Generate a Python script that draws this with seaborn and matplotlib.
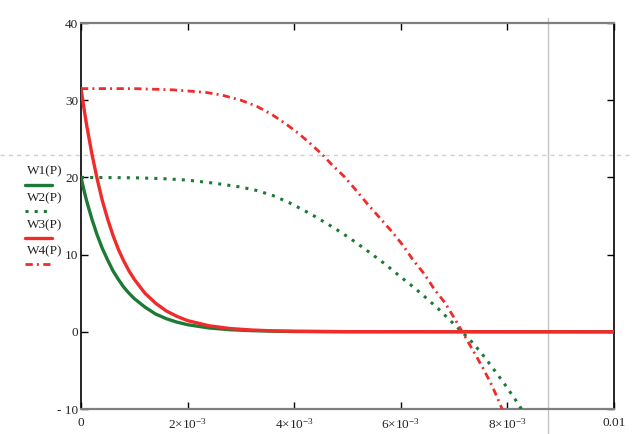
import numpy as np
import pandas as pd
import matplotlib
matplotlib.use("Agg")
import matplotlib.pyplot as plt
from matplotlib.lines import Line2D
import seaborn as sns

# ---------------- data ----------------
P_decay = [0, 0.05e-3, 0.1e-3, 0.2e-3, 0.3e-3, 0.4e-3, 0.5e-3, 0.6e-3, 0.7e-3, 0.8e-3,
           0.9e-3, 1.0e-3, 1.2e-3, 1.4e-3, 1.6e-3, 1.8e-3, 2.0e-3, 2.4e-3, 2.8e-3,
           3.2e-3, 3.6e-3, 4.0e-3, 5.0e-3, 10.0e-3]
W1 = [20, 18.5, 17.1, 14.7, 12.6, 10.8, 9.3, 7.9, 6.8, 5.8,
      5.0, 4.3, 3.2, 2.3, 1.7, 1.25, 0.92, 0.5, 0.27,
      0.15, 0.08, 0.04, 0.01, 0]
W3 = [31.5, 29.2, 27.0, 23.2, 19.9, 17.0, 14.6, 12.5, 10.7, 9.2,
      7.9, 6.8, 5.0, 3.7, 2.7, 2.0, 1.45, 0.78, 0.42,
      0.23, 0.12, 0.07, 0.02, 0]

P_W2 = [0, 1.0e-3, 1.5e-3, 2.0e-3, 2.5e-3, 3.0e-3, 3.3e-3, 3.6e-3, 3.9e-3, 4.15e-3,
        4.4e-3, 4.75e-3, 5.05e-3, 5.4e-3, 5.7e-3, 6.0e-3, 6.2e-3, 6.4e-3, 6.7e-3,
        6.9e-3, 7.1e-3, 7.3e-3, 7.5e-3, 7.7e-3, 7.95e-3, 8.15e-3, 8.3e-3]
W2 = [20, 19.95, 19.85, 19.65, 19.25, 18.75, 18.3, 17.65, 16.75, 15.85,
      14.9, 13.45, 12.1, 10.35, 8.8, 7.1, 6.0, 4.85, 3.0,
      1.65, 0.3, -1.05, -2.65, -4.45, -6.8, -8.8, -10.4]

P_W4 = [0, 1.0e-3, 1.7e-3, 2.0e-3, 2.35e-3, 2.65e-3, 3.0e-3, 3.3e-3, 3.58e-3, 3.83e-3,
        4.08e-3, 4.3e-3, 4.52e-3, 4.7e-3, 4.94e-3, 5.14e-3, 5.37e-3, 5.6e-3, 5.83e-3,
        6.04e-3, 6.23e-3, 6.44e-3, 6.62e-3, 6.83e-3, 7.02e-3, 7.19e-3, 7.37e-3,
        7.55e-3, 7.72e-3, 7.87e-3, 7.95e-3]
W4 = [31.5, 31.5, 31.35, 31.2, 31.0, 30.65, 30.0, 29.2, 28.15, 27.0,
      25.7, 24.4, 23.0, 21.7, 20.1, 18.5, 16.6, 14.8, 13.0,
      11.2, 9.3, 7.5, 5.6, 3.75, 1.6, -0.45, -2.6,
      -4.8, -7.1, -9.5, -10.8]

series_labels = ["W1(P)", "W2(P)", "W3(P)", "W4(P)"]
x_ticks = [0, 2e-3, 4e-3, 6e-3, 8e-3, 0.01]
x_ticklabels = ["0", r"$2{\times}10^{-3}$", r"$4{\times}10^{-3}$",
                r"$6{\times}10^{-3}$", r"$8{\times}10^{-3}$", "0.01"]
y_ticks = [-10, 0, 10, 20, 30, 40]
y_ticklabels = ["- 10", "0", "10", "20", "30", "40"]
cursor_x = 8.76e-3
cursor_y = 22.9

GREEN = "#1d7a36"
RED = "#ef2b2b"
DOTS = [1.0, 2.0]
DASHDOT = [2.6, 1.5, 0.7, 1.6]

# ---------------- style ----------------
sns.set_style("ticks")
plt.rcParams["font.family"] = ["Liberation Serif", "DejaVu Serif"]
plt.rcParams["mathtext.fontset"] = "custom"
plt.rcParams["mathtext.rm"] = "Liberation Serif"
plt.rcParams["mathtext.it"] = "Liberation Serif:italic"
plt.rcParams["mathtext.bf"] = "Liberation Serif:bold"

fig = plt.figure(figsize=(6.32, 4.34), dpi=100)
ax = fig.add_axes([81 / 632, 25 / 434, 533 / 632, 386 / 434])

d1 = pd.DataFrame({"P": P_decay, "W": W1})
d3 = pd.DataFrame({"P": P_decay, "W": W3})
d2 = pd.DataFrame({"P": P_W2, "W": W2})
d4 = pd.DataFrame({"P": P_W4, "W": W4})

sns.lineplot(data=d1, x="P", y="W", ax=ax, color=GREEN, lw=2.4, zorder=3)
l1 = ax.lines[-1]
sns.lineplot(data=d2, x="P", y="W", ax=ax, color=GREEN, lw=2.2, zorder=3)
l2 = ax.lines[-1]
l2.set_dashes(DOTS)
l2.set_dash_capstyle("butt")
sns.lineplot(data=d3, x="P", y="W", ax=ax, color=RED, lw=2.4, zorder=4)
l3 = ax.lines[-1]
sns.lineplot(data=d4, x="P", y="W", ax=ax, color=RED, lw=2.0, zorder=4)
l4 = ax.lines[-1]
l4.set_dashes(DASHDOT)
l4.set_dash_capstyle("butt")

ax.set_xlim(0, 0.01)
ax.set_ylim(-10, 40)
ax.set_xlabel("")
ax.set_ylabel("")
ax.set_xticks(x_ticks)
ax.set_xticklabels(x_ticklabels)
ax.set_yticks(y_ticks)
ax.set_yticklabels(y_ticklabels)
ax.tick_params(axis="both", direction="in", length=5, width=1, color="black",
               labelsize=9.5, labelcolor="#222222")
ax.tick_params(axis="x", pad=6, top=True)
ax.tick_params(axis="y", pad=2, right=True)

for side in ["left", "right"]:
    ax.spines[side].set_color("black")
    ax.spines[side].set_linewidth(1.2)
for side in ["top", "bottom"]:
    ax.spines[side].set_color("#7f7f7f")
    ax.spines[side].set_linewidth(1.6)
    ax.spines[side].set_visible(True)

# cursor lines (Mathcad style crosshair)
ax.axvline(cursor_x, ymin=-0.065, ymax=1.013, color="#c4c4c4", lw=1.0,
           clip_on=False, zorder=1)
ax.axhline(cursor_y, xmin=-0.152, xmax=1.035, color="#cfcfcf", lw=1.0,
           ls=(0, (3, 3)), clip_on=False, zorder=1)

# legend on the left: label text above a line sample
handles = [l1, l2, l3, l4]
text_y = [171.5, 198.5, 225, 251.5]
line_y = [184.5, 211, 237.5, 264]
for h, lab, ty, ly in zip(handles, series_labels, text_y, line_y):
    fig.text(27 / 632, 1 - ty / 434, lab, ha="left", va="center",
             fontsize=9.5, color="#222222")
    sample = Line2D([25 / 632, 52 / 632], [1 - ly / 434, 1 - ly / 434],
                    transform=fig.transFigure, color=h.get_color(),
                    lw=h.get_linewidth())
    if h is l2:
        sample.set_dashes(DOTS)
        sample.set_dash_capstyle("butt")
    if h is l4:
        sample.set_dashes(DASHDOT)
        sample.set_dash_capstyle("butt")
    fig.add_artist(sample)

fig.savefig("out.png", dpi=100)
